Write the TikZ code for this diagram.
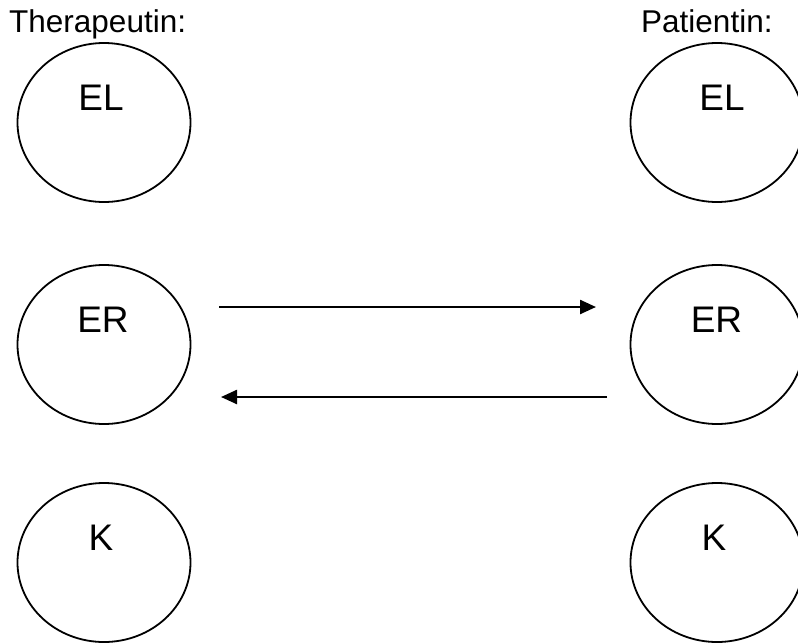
\documentclass[tikz,border=0pt]{standalone}
\usepackage{fontspec}
\setmainfont{Liberation Sans}
\usetikzlibrary{shapes.geometric,arrows.meta}
\tikzset{
  oval/.style={draw, ellipse, line width=1.8pt, minimum width=173pt, minimum height=159pt, inner sep=0pt},
  lbl/.style={anchor=base, inner sep=0pt, font=\fontsize{37}{40}\selectfont},
  hdr/.style={anchor=base west, inner sep=0pt, font=\fontsize{31.5}{36}\selectfont},
  conn/.style={line width=2.4pt, -{Triangle[length=16pt,width=14pt]}}
}
\begin{document}
\begin{tikzpicture}[x=1pt,y=-1pt]
\useasboundingbox (0,0) rectangle (798,643);
\node[hdr] (th) at (9,32) {Therapeutin:};
\node[hdr] (pa) at (641,32) {Patientin:};
\node[oval] (tEL) at (104,122.5) {};
\node[oval] (tER) at (104,344.5) {};
\node[oval] (tK)  at (104,562.5) {};
\node[oval] (pEL) at (717,122.5) {};
\node[oval] (pER) at (717,344.5) {};
\node[oval] (pK)  at (717,562.5) {};
\node[lbl] (ltEL) at (101,110) {EL};
\node[lbl] (ltER) at (103,332) {ER};
\node[lbl] (ltK)  at (101,550) {K};
\node[lbl] (lpEL) at (722,110) {EL};
\node[lbl] (lpER) at (716.5,332) {ER};
\node[lbl] (lpK)  at (714,550) {K};
\coordinate (a1) at (219,307);
\coordinate (a2) at (596,307);
\coordinate (b1) at (607,397);
\coordinate (b2) at (221,397);
\draw[conn] (a1) -- (a2);
\draw[conn] (b1) -- (b2);
\end{tikzpicture}
\end{document}
